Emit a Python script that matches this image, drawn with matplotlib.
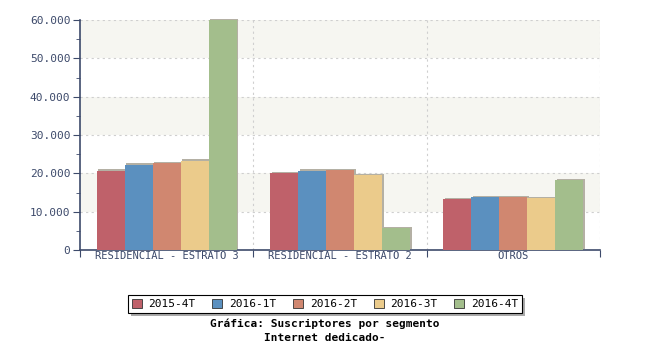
import matplotlib
matplotlib.use("Agg")
import matplotlib.pyplot as plt
import matplotlib.transforms as mtransforms
from matplotlib.ticker import FuncFormatter, MultipleLocator
from matplotlib.patches import Rectangle
import numpy as np

categories = ["RESIDENCIAL - ESTRATO 3", "RESIDENCIAL - ESTRATO 2", "OTROS"]
periods = ["2015-4T", "2016-1T", "2016-2T", "2016-3T", "2016-4T"]
values = {
    "2015-4T": [20700, 20000, 13200],
    "2016-1T": [22300, 20700, 13700],
    "2016-2T": [22600, 20800, 13700],
    "2016-3T": [23300, 19500, 13500],
    "2016-4T": [60000, 5700, 18300],
}
colors = ["#bf616a", "#5b90bf", "#d08770", "#ebcb8b", "#a3be8c"]

axis_col = "#3d4a6b"
mono = "DejaVu Sans Mono"

fig = plt.figure(figsize=(6.5, 3.5), dpi=100)
ax = fig.add_axes([80 / 650, 1 - 250 / 350, 520 / 650, 230 / 350])

ymax = 60000
ax.set_xlim(-0.5, len(categories) - 0.5)
ax.set_ylim(0, ymax)

# alternating background bands
for k in range(6):
    if k % 2 == 1:
        ax.axhspan(k * 10000, (k + 1) * 10000, color="#f6f6f1", zorder=0, lw=0)

# dashed grid
for y in range(10000, ymax + 1, 10000):
    ax.axhline(y, color="#cfcfcf", lw=0.8, ls=(0, (2, 3)), zorder=1)
for xb in [0.5, 1.5, 2.5]:
    ax.axvline(xb, color="#cfcfcf", lw=0.8, ls=(0, (2, 3)), zorder=1)

x = np.arange(len(categories))
bw = 28 / (520 / 3)
n = len(periods)
shadow = mtransforms.offset_copy(ax.transData, fig=fig, x=1.5, y=1.2, units="dots")
for i, (p, c) in enumerate(zip(periods, colors)):
    xs = x + (i - (n - 1) / 2) * bw
    ax.bar(xs, values[p], width=bw, color="#b4b0a4", lw=0, zorder=2,
           transform=shadow, clip_on=False)
for i, (p, c) in enumerate(zip(periods, colors)):
    xs = x + (i - (n - 1) / 2) * bw
    ax.bar(xs, values[p], width=bw, color=c, lw=0, zorder=3, label=p)

# axes styling
for s in ["top", "right"]:
    ax.spines[s].set_visible(False)
ax.spines["left"].set_color(axis_col)
ax.spines["bottom"].set_color(axis_col)
ax.spines["left"].set_linewidth(1.2)
ax.spines["bottom"].set_linewidth(1.2)

ax.yaxis.set_major_locator(MultipleLocator(10000))
ax.yaxis.set_minor_locator(MultipleLocator(5000))
ax.yaxis.set_major_formatter(FuncFormatter(lambda v, _: f"{int(v):,}".replace(",", ".")))
ax.tick_params(axis="y", which="major", length=5, color=axis_col, labelcolor=axis_col,
               labelsize=8, pad=2)
ax.tick_params(axis="y", which="minor", length=3, color=axis_col)
for lab in ax.get_yticklabels():
    lab.set_fontfamily(mono)

ax.set_xticks([-0.5, 0.5, 1.5, 2.5], minor=False)
ax.set_xticklabels([])
ax.tick_params(axis="x", which="major", length=5, color=axis_col, direction="out")
ax.set_xticks(x, minor=True)
ax.set_xticklabels(categories, minor=True, fontfamily=mono, fontsize=7.5, color=axis_col)
ax.tick_params(axis="x", which="minor", length=0, pad=1)

# legend with drop shadow
leg = fig.legend(loc="center", bbox_to_anchor=(325 / 650, 1 - 304 / 350), ncol=5,
                 prop={"family": mono, "size": 8}, frameon=True, fancybox=False,
                 handlelength=0.9, handleheight=0.9, handletextpad=0.6,
                 columnspacing=1.5, borderpad=0.35, framealpha=1)
leg.get_frame().set_edgecolor("black")
leg.get_frame().set_facecolor("white")
leg.get_frame().set_linewidth(0.8)
for h in leg.legend_handles:
    h.set_edgecolor("#333333")
    h.set_linewidth(0.6)
fig.canvas.draw()
bb = leg.get_window_extent()
fig.patches.append(Rectangle((bb.x0 + 3, bb.y0 - 3), bb.width, bb.height,
                             transform=None, facecolor="#aaaaaa", lw=0, zorder=0))
leg.set_zorder(5)

fig.text(325 / 650, 1 - 324 / 350, "Gráfica: Suscriptores por segmento", ha="center",
         va="center", fontfamily=mono, fontsize=8, fontweight="bold")
fig.text(325 / 650, 1 - 338 / 350, "Internet dedicado-", ha="center",
         va="center", fontfamily=mono, fontsize=8, fontweight="bold")

fig.savefig("out.png", dpi=100)
